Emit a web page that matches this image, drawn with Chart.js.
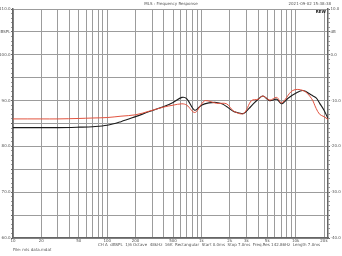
<!DOCTYPE html>
<html>
<head>
<meta charset="utf-8">
<script src="https://cdn.jsdelivr.net/npm/chart.js@4/dist/chart.umd.min.js"></script>
<style>
  html, body { margin: 0; padding: 0; background: #fff; }
  #wrap { width: 342px; height: 256px; }
</style>
</head>
<body>
<div id="wrap"><canvas id="frChart" width="342" height="256"></canvas></div>
<script>
// Traccia nera (misura 1)
const blackFreq = [10, 20, 30, 50, 70, 100, 140, 200, 280, 400, 500, 620, 700, 850, 1000, 1200, 1450, 1650, 1850, 2200, 2500, 2800, 3200, 3550, 4000, 4500, 5300, 6300, 7100, 8300, 10000, 12000, 14700, 16500, 18000, 20000, 22050];
const blackDb = [84.1, 84.1, 84.1, 84.2, 84.3, 84.6, 85.4, 86.5, 87.6, 88.7, 89.6, 90.7, 90.4, 87.9, 89.0, 89.5, 89.6, 89.3, 88.7, 87.6, 87.3, 87.2, 88.3, 89.3, 90.3, 91.0, 90.0, 90.3, 89.3, 90.5, 91.6, 92.2, 91.2, 90.6, 89.4, 87.9, 86.1];

// Traccia rossa (misura 2)
const redFreq = [10, 20, 30, 50, 70, 100, 140, 200, 280, 400, 500, 620, 700, 850, 1000, 1100, 1450, 1850, 2200, 2800, 3400, 4000, 4500, 5300, 6300, 7100, 9300, 12000, 14700, 16500, 18000, 20000, 22050];
const redDb = [86.0, 86.0, 86.0, 86.1, 86.2, 86.3, 86.6, 86.9, 87.7, 88.6, 89.0, 89.3, 89.0, 87.4, 89.2, 90.0, 89.4, 89.3, 87.7, 87.2, 90.0, 90.3, 91.0, 90.1, 90.7, 89.5, 92.2, 92.2, 90.5, 88.3, 87.0, 86.5, 85.9];

// Etichette asse x
const xLabelFreqs = [10, 20, 50, 100, 200, 500, 1000, 2000, 3000, 5000, 10000, 20000];
const xLabelText = ['10', '20', '50', '100', '200', '500', '1k', '2k', '3k', '5k', '10k', '20k'];

// Etichette asse y
const yLeftLabels = { 110: '110.0', 105: 'dBSPL', 100: '100.0', 90: '90.0', 80: '80.0', 70: '70.0', 60: '60.0' };
const yRightLabels = { 10: '10.0', 5: 'dB', 0: '0.0', '-10': '-10.0', '-20': '-20.0', '-30': '-30.0', '-40': '-40.0' };

// Testi
const titleText = 'MLS : Frequency Response';
const dateText = '2021-09-02 15:38:38';
const infoText = 'CH A  dBSPL  1/6 Octave  48kHz  16K  Rectangular  Start 0.0ms  Stop 7.0ms  Freq.Res 142.86Hz  Length 7.0ms';
const fileText = 'File: mls data.mdat';

const tinyFont = { family: 'DejaVu Sans', size: 4 };
const gridGray = '#9c9c9c';
const axisGray = '#666';

// Linee verticali della griglia: 1..9 per ogni decade
const gridFreqs = [];
[10, 100, 1000, 10000].forEach(d => {
    for (let m = 1; m <= 9; m++) {
        if (d * m <= 22050) gridFreqs.push(d * m);
    }
});

const toPoints = (freqs, dbs) => freqs.map((f, i) => ({ x: f, y: dbs[i] }));

// Plugin: sfondo bianco e testi del grafico
const textPlugin = {
    id: 'rewText',
    beforeDraw(chart) {
        const ctx = chart.ctx;
        ctx.save();
        ctx.fillStyle = '#fff';
        ctx.fillRect(0, 0, chart.width, chart.height);
        ctx.restore();
    },
    afterDraw(chart) {
        const ctx = chart.ctx;
        ctx.save();
        ctx.fillStyle = '#555';
        ctx.font = '4px "DejaVu Sans"';
        ctx.textBaseline = 'middle';
        ctx.textAlign = 'center';
        ctx.fillText(titleText, 171, 4);
        ctx.textAlign = 'right';
        ctx.fillText(dateText, 331, 4);
        ctx.textAlign = 'left';
        ctx.fillText(infoText, 98, 244.5);
        ctx.fillText(fileText, 13, 249.5);
        ctx.font = 'bold 4px "DejaVu Sans"';
        ctx.fillStyle = '#222';
        ctx.textAlign = 'right';
        ctx.fillText('REW', 326, 11.5);
        ctx.restore();
    }
};

const renderChart = () => {

    const data = {
        datasets: [
            {
                data: toPoints(redFreq, redDb),
                borderColor: '#e2533f',
                borderWidth: 1,
                pointRadius: 0,
                tension: 0.35,
                fill: false
            },
            {
                data: toPoints(blackFreq, blackDb),
                borderColor: '#1c1c1c',
                borderWidth: 1.1,
                pointRadius: 0,
                tension: 0.35,
                fill: false
            }
        ]
    };

    const options = {
        responsive: false,
        animation: false,
        devicePixelRatio: 1,
        layout: { padding: { top: 9, left: 0, right: 0, bottom: 0 } },
        plugins: {
            legend: { display: false },
            tooltip: { enabled: false },
            title: { display: false }
        },
        scales: {
            x: {
                type: 'logarithmic',
                min: 10,
                max: 22050,
                afterBuildTicks: scale => { scale.ticks = gridFreqs.map(v => ({ value: v })); },
                afterFit: scale => { scale.height = 18; },
                ticks: {
                    autoSkip: false,
                    maxRotation: 0,
                    minRotation: 0,
                    padding: 1,
                    color: '#555',
                    font: tinyFont,
                    callback: value => {
                        const i = xLabelFreqs.indexOf(value);
                        return i >= 0 ? xLabelText[i] : '';
                    }
                },
                grid: { color: gridGray, lineWidth: 1, drawTicks: false },
                border: { color: axisGray, width: 1.5 }
            },
            y: {
                position: 'left',
                min: 60,
                max: 110,
                afterBuildTicks: scale => {
                    const t = [];
                    for (let v = 60; v <= 110; v++) t.push({ value: v });
                    scale.ticks = t;
                },
                afterFit: scale => { scale.width = 13; },
                ticks: {
                    autoSkip: false,
                    padding: 0.5,
                    color: '#555',
                    font: tinyFont,
                    callback: value => yLeftLabels[value] || ''
                },
                grid: {
                    color: c => (c.tick && c.tick.value % 5 === 0) ? gridGray : 'rgba(0,0,0,0)',
                    tickColor: c => (c.tick && c.tick.value % 5 === 0) ? axisGray : '#999',
                    tickLength: 2,
                    lineWidth: 1
                },
                border: { color: axisGray, width: 1.5 }
            },
            y2: {
                position: 'right',
                min: -40,
                max: 10,
                afterBuildTicks: scale => {
                    const t = [];
                    for (let v = -40; v <= 10; v++) t.push({ value: v });
                    scale.ticks = t;
                },
                afterFit: scale => { scale.width = 14; },
                ticks: {
                    autoSkip: false,
                    padding: 0.5,
                    color: '#555',
                    font: tinyFont,
                    callback: value => yRightLabels[value] || ''
                },
                grid: {
                    drawOnChartArea: false,
                    tickColor: c => (c.tick && c.tick.value % 5 === 0) ? axisGray : '#999',
                    tickLength: 2
                },
                border: { color: axisGray, width: 1.5 }
            }
        }
    };

    new Chart('frChart', { type: 'line', data, options, plugins: [textPlugin] });
};

renderChart();
</script>
</body>
</html>
